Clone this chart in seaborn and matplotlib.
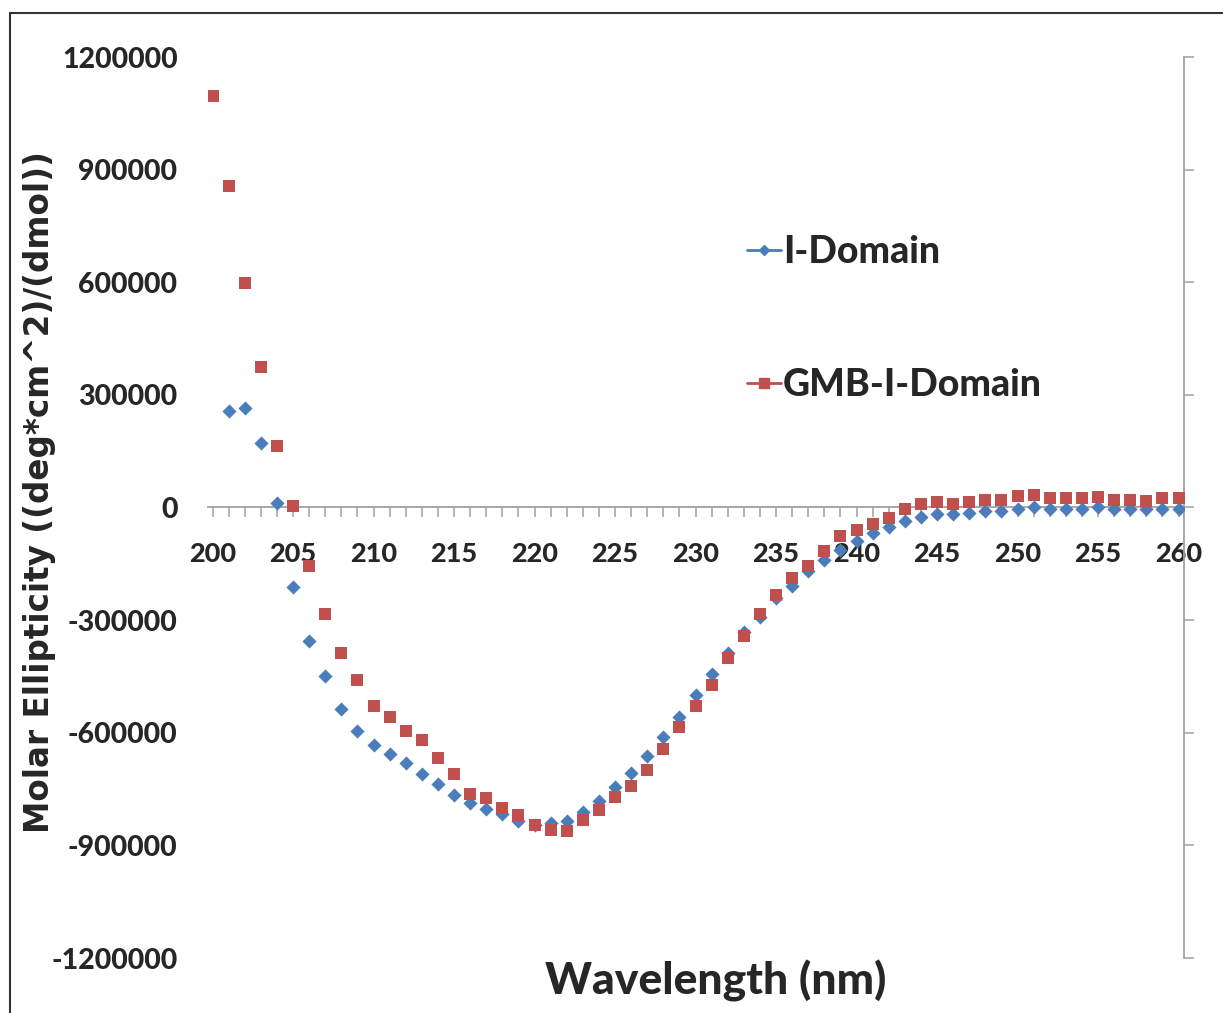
import numpy as np
import pandas as pd
import matplotlib
matplotlib.use("Agg")
import matplotlib.pyplot as plt
from matplotlib.lines import Line2D
from matplotlib.ticker import MultipleLocator
import seaborn as sns

# CD spectra, molar ellipticity
wavelength = list(range(200, 261))
i_domain = [np.nan, 256000, 264000, 171000, 11000, -211000, -355000, -448000, -536000, -595000,
            -632000, -656000, -680000, -709000, -736000, -765000, -787000, -803000, -816000, -835000,
            -845000, -840000, -835000, -811000, -781000, -744000, -707000, -661000, -611000, -557000,
            -499000, -443000, -387000, -331000, -291000, -240000, -208000, -168000, -139000, -112000,
            -88000, -67000, -51000, -37000, -24000, -18000, -18000, -14000, -10000, -8000,
            -4000, 0, -4000, -4000, -4000, 0, -5000, -4000, -5000, -3000, -4000]
gmb_i_domain = [1096000, 856000, 597000, 373000, 163000, 3000, -155000, -285000, -387000, -459000,
                -528000, -557000, -595000, -619000, -667000, -709000, -763000, -773000, -800000, -819000,
                -845000, -859000, -861000, -832000, -805000, -771000, -741000, -699000, -643000, -584000,
                -528000, -472000, -400000, -341000, -285000, -232000, -189000, -155000, -115000, -77000,
                -59000, -45000, -27000, -5000, 10000, 14000, 10000, 14000, 20000, 21000,
                30000, 32000, 26000, 24000, 26000, 28000, 21000, 21000, 17000, 24000, 24000]
series_names = ["I-Domain", "GMB-I-Domain"]
y_ticks = [-1200000, -900000, -600000, -300000, 0, 300000, 600000, 900000, 1200000]

blue = "#4A7EBB"
red = "#C0504D"

df = pd.DataFrame({"wavelength": wavelength, "I-Domain": i_domain, "GMB-I-Domain": gmb_i_domain})

sns.set_theme(style="white")
plt.rcParams["font.family"] = ["Lato", "DejaVu Sans"]
plt.rcParams["font.weight"] = "black"

W, H = 1223, 1013
fig = plt.figure(figsize=(W / 100, H / 100), dpi=100)
ax = fig.add_axes([208 / W, 1 - 958 / H, (1184 - 208) / W, (958 - 57) / H])

sns.scatterplot(data=df, x="wavelength", y="I-Domain", marker="D", s=52, color=blue,
                linewidth=0, ax=ax, zorder=3)
sns.scatterplot(data=df, x="wavelength", y="GMB-I-Domain", marker="s", s=76, color=red,
                linewidth=0, ax=ax, zorder=4)

ax.set_xlim(199.72, 260.34)
ax.set_ylim(-1200000, 1200000)
ax.set_yticks(y_ticks)
ax.set_yticklabels([str(v) for v in y_ticks])
ax.xaxis.set_major_locator(MultipleLocator(5))
ax.xaxis.set_minor_locator(MultipleLocator(1))

# excel-like axes: x axis crosses at 0, plain y axis line on the right
for side in ["left", "top"]:
    ax.spines[side].set_visible(False)
ax.spines["bottom"].set_position(("data", 0))
for side in ["bottom", "right"]:
    ax.spines[side].set_color("#A0A0A0")
    ax.spines[side].set_linewidth(1.3)

ax.tick_params(axis="x", which="both", direction="out", length=7, width=1.1,
               color="#A0A0A0", bottom=True, pad=18, labelsize=19.5)
ax.tick_params(axis="y", left=False, right=True, labelleft=True, labelright=False,
               direction="out", length=7, width=1.1, color="#A0A0A0", pad=15, labelsize=20.5)
for lbl in ax.get_xticklabels() + ax.get_yticklabels():
    lbl.set_fontweight("black")

ax.set_xlabel("")
ax.set_ylabel("")
fig.text(716 / W, 1 - 981 / H, "Wavelength (nm)", ha="center", va="center",
         fontsize=32, fontweight="black")
fig.text(40 / W, 1 - 492 / H, "Molar Ellipticity ((deg*cm^2)/(dmol))", ha="center", va="center",
         rotation=90, fontsize=23.5, fontweight="bold", family="DejaVu Sans")

handles = [
    Line2D([], [], color=blue, marker="D", markersize=5, linewidth=2),
    Line2D([], [], color=red, marker="s", markersize=7, linewidth=2),
]
fig.legend(handles, series_names, loc="upper left", bbox_to_anchor=(732 / W, 1 - 220 / H),
           frameon=False, prop={"size": 27, "weight": "black"}, handlelength=0.9,
           handletextpad=0.05, labelspacing=2.65, borderaxespad=0)

# outer chart border (cut off at right and bottom like the reference)
fig.add_artist(Line2D([10 / W, 10 / W], [0, 1 - 13 / H], color="#333333", linewidth=1.5))
fig.add_artist(Line2D([10 / W, 1], [1 - 13 / H, 1 - 13 / H], color="#333333", linewidth=1.5))

fig.savefig("out.png", dpi=100, facecolor="white")
